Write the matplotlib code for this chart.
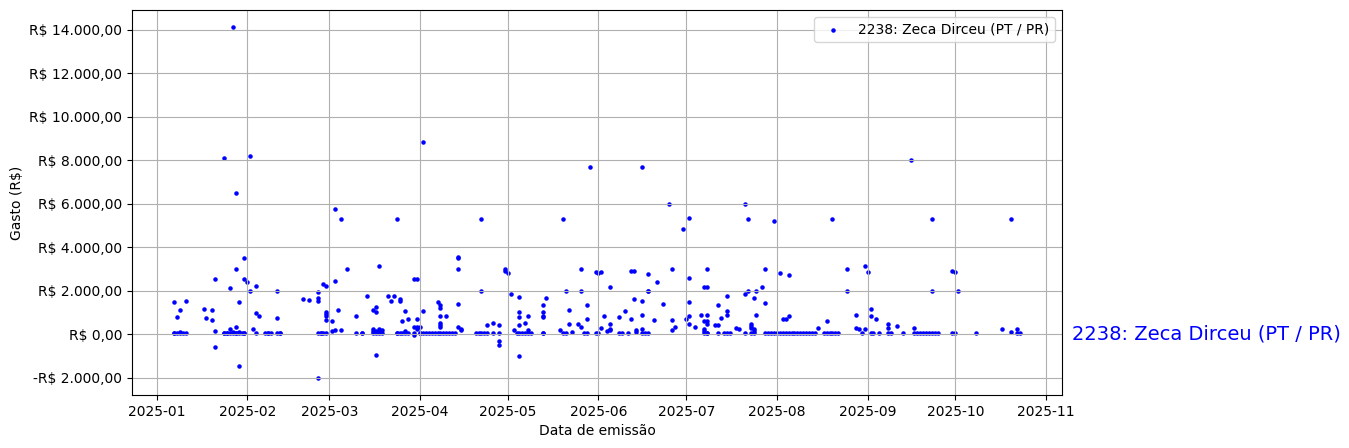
import matplotlib
matplotlib.use("Agg")
import matplotlib.pyplot as plt
import matplotlib.ticker as mticker
import matplotlib.transforms as mtransforms
import pandas as pd

nome = "2238: Zeca Dirceu (PT / PR)"

datas = [
    "2025-01-07", "2025-01-07", "2025-01-07",
    "2025-01-08", "2025-01-08",
    "2025-01-09", "2025-01-09", "2025-01-09",
    "2025-01-10",
    "2025-01-11", "2025-01-11",
    "2025-01-17",
    "2025-01-18",
    "2025-01-20", "2025-01-20",
    "2025-01-21", "2025-01-21", "2025-01-21",
    "2025-01-24", "2025-01-24", "2025-01-24",
    "2025-01-25", "2025-01-25",
    "2025-01-26", "2025-01-26", "2025-01-26",
    "2025-01-27", "2025-01-27", "2025-01-27",
    "2025-01-28", "2025-01-28", "2025-01-28", "2025-01-28", "2025-01-28",
    "2025-01-29", "2025-01-29", "2025-01-29", "2025-01-29",
    "2025-01-30",
    "2025-01-31", "2025-01-31", "2025-01-31", "2025-01-31",
    "2025-02-01",
    "2025-02-02", "2025-02-02",
    "2025-02-03",
    "2025-02-04", "2025-02-04", "2025-02-04",
    "2025-02-05",
    "2025-02-07",
    "2025-02-08", "2025-02-08",
    "2025-02-09",
    "2025-02-11", "2025-02-11", "2025-02-11",
    "2025-02-12", "2025-02-12",
    "2025-02-20",
    "2025-02-22",
    "2025-02-25", "2025-02-25", "2025-02-25", "2025-02-25", "2025-02-25",
    "2025-02-26", "2025-02-26",
    "2025-02-27", "2025-02-27",
    "2025-02-28", "2025-02-28", "2025-02-28", "2025-02-28", "2025-02-28", "2025-02-28",
    "2025-03-02", "2025-03-02",
    "2025-03-03", "2025-03-03", "2025-03-03",
    "2025-03-04",
    "2025-03-05", "2025-03-05",
    "2025-03-07",
    "2025-03-10", "2025-03-10",
    "2025-03-12", "2025-03-12",
    "2025-03-14",
    "2025-03-16", "2025-03-16", "2025-03-16", "2025-03-16",
    "2025-03-17", "2025-03-17", "2025-03-17", "2025-03-17", "2025-03-17",
    "2025-03-18", "2025-03-18", "2025-03-18", "2025-03-18",
    "2025-03-19", "2025-03-19",
    "2025-03-21",
    "2025-03-22",
    "2025-03-23",
    "2025-03-24", "2025-03-24", "2025-03-24",
    "2025-03-25", "2025-03-25", "2025-03-25",
    "2025-03-26", "2025-03-26",
    "2025-03-27", "2025-03-27", "2025-03-27",
    "2025-03-28", "2025-03-28",
    "2025-03-30", "2025-03-30", "2025-03-30", "2025-03-30",
    "2025-03-31", "2025-03-31", "2025-03-31", "2025-03-31",
    "2025-04-01", "2025-04-01", "2025-04-01",
    "2025-04-02", "2025-04-02", "2025-04-02",
    "2025-04-03",
    "2025-04-04",
    "2025-04-05",
    "2025-04-06",
    "2025-04-07", "2025-04-07",
    "2025-04-08", "2025-04-08", "2025-04-08", "2025-04-08", "2025-04-08", "2025-04-08", "2025-04-08",
    "2025-04-09",
    "2025-04-10", "2025-04-10",
    "2025-04-11",
    "2025-04-12",
    "2025-04-13",
    "2025-04-14", "2025-04-14", "2025-04-14", "2025-04-14", "2025-04-14",
    "2025-04-15", "2025-04-15",
    "2025-04-20",
    "2025-04-21",
    "2025-04-22", "2025-04-22", "2025-04-22",
    "2025-04-23",
    "2025-04-24", "2025-04-24",
    "2025-04-26", "2025-04-26",
    "2025-04-28", "2025-04-28", "2025-04-28", "2025-04-28",
    "2025-04-30", "2025-04-30",
    "2025-05-01",
    "2025-05-02",
    "2025-05-03",
    "2025-05-04",
    "2025-05-05", "2025-05-05", "2025-05-05", "2025-05-05", "2025-05-05", "2025-05-05",
    "2025-05-06",
    "2025-05-07", "2025-05-07",
    "2025-05-08", "2025-05-08", "2025-05-08",
    "2025-05-09",
    "2025-05-13", "2025-05-13", "2025-05-13", "2025-05-13", "2025-05-13", "2025-05-13",
    "2025-05-14",
    "2025-05-19",
    "2025-05-20", "2025-05-20",
    "2025-05-21", "2025-05-21",
    "2025-05-22", "2025-05-22",
    "2025-05-23",
    "2025-05-25",
    "2025-05-26", "2025-05-26", "2025-05-26",
    "2025-05-27",
    "2025-05-28", "2025-05-28", "2025-05-28",
    "2025-05-29",
    "2025-05-31", "2025-05-31",
    "2025-06-01", "2025-06-01",
    "2025-06-02", "2025-06-02",
    "2025-06-03",
    "2025-06-04",
    "2025-06-05", "2025-06-05", "2025-06-05", "2025-06-05",
    "2025-06-08", "2025-06-08",
    "2025-06-09",
    "2025-06-10",
    "2025-06-11",
    "2025-06-12", "2025-06-12",
    "2025-06-13", "2025-06-13",
    "2025-06-14", "2025-06-14",
    "2025-06-16", "2025-06-16", "2025-06-16", "2025-06-16", "2025-06-16",
    "2025-06-17",
    "2025-06-18", "2025-06-18", "2025-06-18", "2025-06-18",
    "2025-06-20",
    "2025-06-21",
    "2025-06-23",
    "2025-06-25",
    "2025-06-26", "2025-06-26", "2025-06-26",
    "2025-06-27",
    "2025-06-30",
    "2025-07-01",
    "2025-07-02", "2025-07-02", "2025-07-02", "2025-07-02", "2025-07-02",
    "2025-07-04",
    "2025-07-06",
    "2025-07-07", "2025-07-07", "2025-07-07", "2025-07-07", "2025-07-07",
    "2025-07-08", "2025-07-08", "2025-07-08", "2025-07-08", "2025-07-08", "2025-07-08", "2025-07-08",
    "2025-07-11",
    "2025-07-12", "2025-07-12", "2025-07-12",
    "2025-07-13",
    "2025-07-14",
    "2025-07-15", "2025-07-15", "2025-07-15", "2025-07-15",
    "2025-07-16",
    "2025-07-18",
    "2025-07-19",
    "2025-07-21", "2025-07-21", "2025-07-21",
    "2025-07-22", "2025-07-22",
    "2025-07-23", "2025-07-23", "2025-07-23", "2025-07-23",
    "2025-07-24", "2025-07-24", "2025-07-24", "2025-07-24",
    "2025-07-25", "2025-07-25",
    "2025-07-27",
    "2025-07-28", "2025-07-28", "2025-07-28",
    "2025-07-29",
    "2025-07-30",
    "2025-07-31", "2025-07-31",
    "2025-08-01",
    "2025-08-02", "2025-08-02",
    "2025-08-03", "2025-08-03",
    "2025-08-04", "2025-08-04",
    "2025-08-05", "2025-08-05", "2025-08-05",
    "2025-08-06",
    "2025-08-07",
    "2025-08-08",
    "2025-08-09",
    "2025-08-10",
    "2025-08-11",
    "2025-08-12",
    "2025-08-13",
    "2025-08-14",
    "2025-08-15",
    "2025-08-17",
    "2025-08-18", "2025-08-18",
    "2025-08-19",
    "2025-08-20", "2025-08-20",
    "2025-08-21",
    "2025-08-22",
    "2025-08-25", "2025-08-25",
    "2025-08-28", "2025-08-28",
    "2025-08-29",
    "2025-08-30",
    "2025-08-31", "2025-08-31",
    "2025-09-01",
    "2025-09-02", "2025-09-02", "2025-09-02",
    "2025-09-03",
    "2025-09-04",
    "2025-09-05",
    "2025-09-08", "2025-09-08", "2025-09-08",
    "2025-09-09",
    "2025-09-11",
    "2025-09-13",
    "2025-09-16",
    "2025-09-17", "2025-09-17",
    "2025-09-18",
    "2025-09-19",
    "2025-09-20",
    "2025-09-21",
    "2025-09-22",
    "2025-09-23", "2025-09-23", "2025-09-23",
    "2025-09-24",
    "2025-09-25",
    "2025-09-30", "2025-09-30",
    "2025-10-01", "2025-10-01",
    "2025-10-02",
    "2025-10-08",
    "2025-10-17",
    "2025-10-20", "2025-10-20",
    "2025-10-22", "2025-10-22",
    "2025-10-23",
]

gastos = [
    1450, 60, 30,
    800, 50,
    1100, 40, 70,
    40,
    1500, 60,
    1150,
    730,
    1100, 640,
    2550, -600, 140,
    8100, 40, 60,
    30, 50,
    2100, 230, 50,
    14100, 40, 80,
    6500, 3000, 300, 40, 30,
    1450, -1450, 50, 90,
    40,
    3500, 2550, 40, 60,
    2400,
    8200, 2000,
    230,
    2200, 950, 30,
    820,
    40,
    40, 50,
    40,
    2000, 730, 60,
    40, 30,
    1590,
    1545,
    1950, 1640, 1500, -2000, 60,
    60, 40,
    2300, 60,
    2230, 1000, 910, 820, 640, 40,
    590, 140,
    5750, 2450, 180,
    1090,
    5300, 180,
    3000,
    820, 60,
    60, 40,
    1730,
    1090, 230, 140, 40,
    1000, 1230, -950, 60, 140,
    3150, 250, 100, 40,
    180, 60,
    1730,
    1500,
    1730,
    5300, 60, 40,
    1590, 1500, 50,
    590, 60,
    1045, 140, 60,
    680, 40,
    2550, 320, -50, 40,
    2550, 680, 320, 230,
    320, 50, 30,
    8850, 1045, 40,
    40,
    50,
    40,
    30,
    1450, 60,
    1320, 1180, 820, 500, 410, 320, 40,
    50,
    820, 40,
    50,
    40,
    50,
    3500, 3550, 3000, 1360, 320,
    230, 180,
    40,
    50,
    5300, 2000, 40,
    40,
    410, 40,
    500, 40,
    410, -320, -500, 40,
    3000, 2900,
    2820,
    1860,
    180,
    40,
    1680, 1000, 770, 410, -1000, 60,
    40,
    500, 40,
    820, 180, 40,
    40,
    1320, 1000, 820, 770, 40, 50,
    1640,
    180,
    5300, 40,
    2000, 50,
    1090, 450,
    90,
    450,
    3000, 2000, 320,
    40,
    1320, 680, 40,
    7700,
    2860, 40,
    2820, 40,
    2860, 270,
    820,
    140,
    2180, 230, 180, 450,
    770, 40,
    40,
    1045,
    40,
    2900, 680,
    2900, 1590,
    180, 90,
    7700, 1500, 860, 230, 40,
    40,
    2770, 2000, 2000, 40,
    640,
    2400,
    1360,
    6000,
    3000, 640, 180,
    320,
    4820,
    680,
    5350, 2590, 1450, 820, 450,
    320,
    860,
    2180, 590, 230, 140, 40,
    2180, 3000, 450, 590, 860, 40, 40,
    410,
    1320, 410, 40,
    730,
    40,
    1730, 1045, 860, 40,
    40,
    270,
    230,
    6000, 1820, 40,
    5300, 2000,
    450, 360, 270, 40,
    1640, 230, 140, 40,
    2000, 860,
    2180,
    3000, 1410, 40,
    40,
    40,
    5200, 40,
    40,
    2820, 40,
    680, 40,
    680, 40,
    2730, 820, 40,
    40,
    40,
    40,
    60,
    40,
    40,
    40,
    40,
    40,
    270,
    40,
    590, 40,
    60,
    5300, 40,
    40,
    40,
    3000, 2000,
    860, 270,
    230,
    40,
    3150, 230,
    2860,
    1140, 820, 40,
    40,
    680,
    40,
    450, 270, 40,
    40,
    360,
    40,
    8000,
    270, 40,
    40,
    50,
    40,
    40,
    40,
    5300, 2000, 40,
    40,
    40,
    2900, 40,
    2860, 40,
    2000,
    40,
    230,
    5300, 90,
    230, 40,
    40,
]

assert len(datas) == len(gastos)
x = pd.to_datetime(datas)


def brl(v, pos=None):
    s = f"{abs(v):,.2f}".replace(",", "X").replace(".", ",").replace("X", ".")
    return f"-R$ {s}" if v < 0 else f"R$ {s}"


fig = plt.figure(figsize=(13.49, 4.48), dpi=100)
ax = fig.add_axes([132 / 1349, 1 - 395 / 448, 930 / 1349, 385 / 448])
ax.scatter(x, gastos, s=5, color="blue", label=nome)
ax.yaxis.set_major_formatter(mticker.FuncFormatter(brl))
ax.set_xlabel("Data de emissão")
ax.set_ylabel("Gasto (R$)")
ax.grid(True)
ax.legend(loc="upper right")
trans = mtransforms.blended_transform_factory(ax.transAxes, ax.transData)
ax.text(1.0105, 0, nome, transform=trans, color="blue", fontsize=14, va="center", ha="left")

fig.savefig("out.png", dpi=100)
